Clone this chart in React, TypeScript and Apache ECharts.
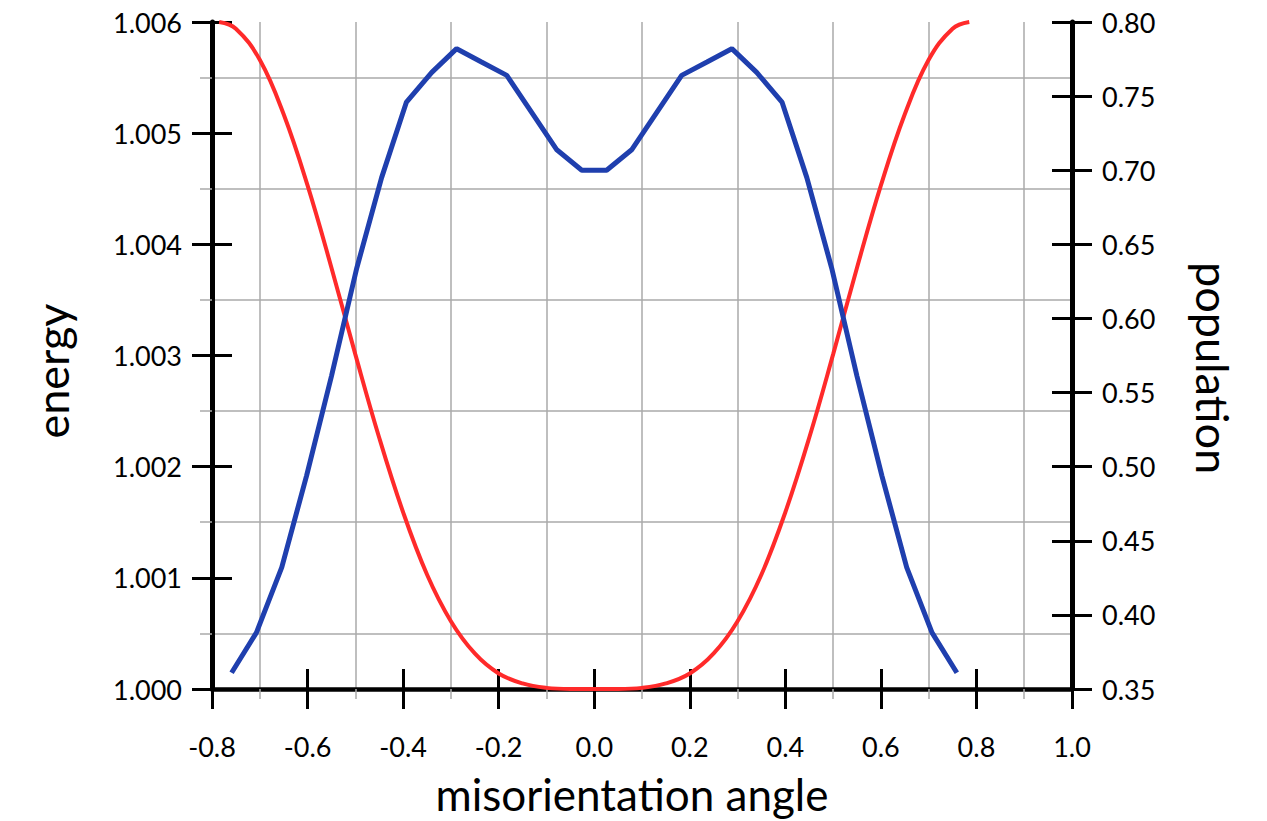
import React, { useEffect, useRef } from "react";
import * as echarts from "echarts";

// Energy curve (left axis)
const energyAngles = [
  -0.785, -0.75, -0.7, -0.65, -0.6, -0.55, -0.5, -0.45, -0.4, -0.35, -0.3, -0.25, -0.2, -0.15, -0.1, -0.05,
  0,
  0.05, 0.1, 0.15, 0.2, 0.25, 0.3, 0.35, 0.4, 0.45, 0.5, 0.55, 0.6, 0.65, 0.7, 0.75, 0.785,
];
const energyValues = [
  1.006, 1.00594, 1.00566, 1.00517, 1.00453, 1.00379, 1.00301, 1.00226, 1.00159, 1.00103, 1.00061, 1.00032, 1.00014, 1.00005, 1.00001, 1.0,
  1.0,
  1.0, 1.00001, 1.00005, 1.00014, 1.00032, 1.00061, 1.00103, 1.00159, 1.00226, 1.00301, 1.00379, 1.00453, 1.00517, 1.00566, 1.00594, 1.006,
];

// Population curve (right axis)
const populationAngles = [
  -0.759, -0.707, -0.654, -0.602, -0.55, -0.497, -0.445, -0.393, -0.34, -0.288, -0.236, -0.183, -0.131, -0.079, -0.026,
  0.026, 0.079, 0.131, 0.183, 0.236, 0.288, 0.34, 0.393, 0.445, 0.497, 0.55, 0.602, 0.654, 0.707, 0.759,
];
const populationValues = [
  0.361, 0.388, 0.432, 0.494, 0.561, 0.634, 0.695, 0.746, 0.766, 0.782, 0.773, 0.764, 0.739, 0.714, 0.7,
  0.7, 0.714, 0.739, 0.764, 0.773, 0.782, 0.766, 0.746, 0.695, 0.634, 0.561, 0.494, 0.432, 0.388, 0.361,
];

const xTitle = "misorientation angle";
const leftTitle = "energy";
const rightTitle = "population";

const FONT = "Lato, 'Open Sans', sans-serif";
const GRIDC = "#aaaaaa";

export default function App() {
  const ref = useRef<HTMLDivElement>(null);
  useEffect(() => {
    if (!ref.current) return;
    const chart = echarts.init(ref.current, undefined, { renderer: "svg" });
    const fmt1 = (v: number) => (Math.abs(v) < 1e-9 ? 0 : v).toFixed(1);
    const hidden = {
      axisLine: { show: false, onZero: false },
      axisLabel: { show: false },
      splitLine: { show: false },
      minorTick: { show: false },
      minorSplitLine: { show: false },
    };
    chart.setOption({
      animation: false,
      backgroundColor: "#ffffff",
      grid: { left: 212, right: 195, top: 22, bottom: 132, containLabel: false },
      xAxis: [
        {
          type: "value",
          min: -0.8,
          max: 1.0,
          interval: 0.2,
          position: "bottom",
          axisLine: { show: true, onZero: false, lineStyle: { color: "#000", width: 4.5 } },
          axisTick: { show: true, inside: false, length: 20, lineStyle: { color: "#000", width: 3 } },
          minorTick: { show: true, splitNumber: 2, length: 10, lineStyle: { color: GRIDC, width: 1.5 } },
          splitLine: { show: false },
          minorSplitLine: { show: true, lineStyle: { color: GRIDC, width: 1.5 } },
          axisLabel: { margin: 44, fontSize: 27, color: "#000", fontFamily: FONT, formatter: fmt1 },
        },
        {
          type: "value",
          min: -0.8,
          max: 1.0,
          interval: 0.2,
          position: "bottom",
          ...hidden,
          axisTick: { show: true, inside: true, length: 20, lineStyle: { color: "#000", width: 3 } },
        },
      ],
      yAxis: [
        {
          type: "value",
          min: 1.0,
          max: 1.006,
          interval: 0.001,
          position: "left",
          axisLine: { show: true, onZero: false, lineStyle: { color: "#000", width: 5 } },
          axisTick: { show: true, inside: false, length: 20, lineStyle: { color: "#000", width: 3 } },
          minorTick: { show: true, splitNumber: 2, length: 12, lineStyle: { color: GRIDC, width: 1.5 } },
          splitLine: { show: false },
          minorSplitLine: { show: true, lineStyle: { color: GRIDC, width: 1.5 } },
          axisLabel: { margin: 30, fontSize: 27, color: "#000", fontFamily: FONT, formatter: (v: number) => v.toFixed(3) },
        },
        {
          type: "value",
          min: 1.0,
          max: 1.006,
          interval: 0.001,
          position: "left",
          ...hidden,
          axisTick: { show: true, inside: true, length: 20, lineStyle: { color: "#000", width: 3 } },
        },
        {
          type: "value",
          min: 0.35,
          max: 0.8,
          interval: 0.05,
          position: "right",
          axisLine: { show: true, onZero: false, lineStyle: { color: "#000", width: 5 } },
          axisTick: { show: true, inside: false, length: 20, lineStyle: { color: "#000", width: 3 } },
          splitLine: { show: false },
          axisLabel: { margin: 30, fontSize: 27, color: "#000", fontFamily: FONT, formatter: (v: number) => v.toFixed(2) },
        },
        {
          type: "value",
          min: 0.35,
          max: 0.8,
          interval: 0.05,
          position: "right",
          ...hidden,
          axisTick: { show: true, inside: true, length: 20, lineStyle: { color: "#000", width: 3 } },
        },
      ],
      graphic: [
        {
          type: "text",
          x: 632,
          y: 794,
          style: { text: xTitle, fontSize: 44, fontFamily: FONT, fill: "#000", textAlign: "center", textVerticalAlign: "middle" },
        },
        {
          type: "text",
          x: 52,
          y: 371,
          rotation: Math.PI / 2,
          style: { text: leftTitle, fontSize: 45, fontFamily: FONT, fill: "#000", textAlign: "center", textVerticalAlign: "middle" },
        },
        {
          type: "text",
          x: 1213,
          y: 368,
          rotation: -Math.PI / 2,
          style: { text: rightTitle, fontSize: 45, fontFamily: FONT, fill: "#000", textAlign: "center", textVerticalAlign: "middle" },
        },
      ],
      series: [
        {
          type: "line",
          name: "energy",
          xAxisIndex: 0,
          yAxisIndex: 0,
          data: energyAngles.map((a, i) => [a, energyValues[i]]),
          smooth: 0.4,
          showSymbol: false,
          symbol: "none",
          lineStyle: { color: "#ff2a2a", width: 4 },
          z: 3,
        },
        {
          type: "line",
          name: "population",
          xAxisIndex: 0,
          yAxisIndex: 2,
          data: populationAngles.map((a, i) => [a, populationValues[i]]),
          showSymbol: false,
          symbol: "none",
          lineStyle: { color: "#1f3fae", width: 5 },
          z: 4,
        },
      ],
    });
    return () => chart.dispose();
  }, []);
  return (
    <div
      ref={ref}
      style={{ position: "absolute", left: 0, top: 0, width: 1267, height: 821, background: "#fff" }}
    />
  );
}
